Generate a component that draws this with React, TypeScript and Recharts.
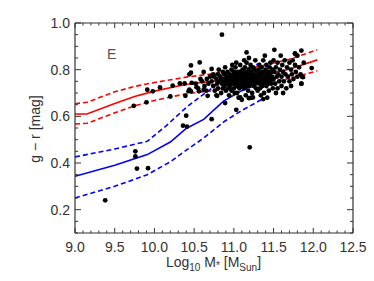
import { ComposedChart, Line, Scatter, XAxis, YAxis } from 'recharts';

// axis ticks
const xMajor = [9.0, 9.5, 10.0, 10.5, 11.0, 11.5, 12.0, 12.5];
const yMajor = [0.2, 0.4, 0.6, 0.8, 1.0];
const xTicks = Array.from({ length: 36 }, (_, i) => +(9 + i * 0.1).toFixed(1));
const yTicks = Array.from({ length: 19 }, (_, i) => +(0.1 + i * 0.05).toFixed(2));

// red: median and 1-sigma envelope
const redMedian: [number, number][] = [
  [9.0, 0.61], [9.15, 0.61], [9.5, 0.655], [9.75, 0.685], [10.0, 0.708], [10.3, 0.73],
  [10.5, 0.742], [10.8, 0.752], [11.1, 0.765], [11.4, 0.782], [11.7, 0.802], [12.05, 0.842],
];
const redUpper: [number, number][] = [
  [9.0, 0.654], [9.15, 0.66], [9.5, 0.705], [9.75, 0.728], [10.0, 0.745], [10.4, 0.768],
  [10.8, 0.785], [11.1, 0.8], [11.4, 0.82], [11.7, 0.845], [12.05, 0.885],
];
const redLower: [number, number][] = [
  [9.0, 0.567], [9.15, 0.57], [9.5, 0.615], [9.75, 0.645], [10.0, 0.668], [10.4, 0.697],
  [10.8, 0.712], [11.1, 0.727], [11.4, 0.743], [11.7, 0.762], [12.05, 0.795],
];

// blue: median and 1-sigma envelope
const blueMedian: [number, number][] = [
  [9.0, 0.343], [9.5, 0.39], [9.91, 0.436], [10.2, 0.49], [10.4, 0.548],
  [10.62, 0.587], [10.87, 0.665], [11.1, 0.71], [11.33, 0.75],
];
const blueUpper: [number, number][] = [
  [9.0, 0.426], [9.5, 0.46], [9.91, 0.493], [10.15, 0.56], [10.4, 0.638],
  [10.6, 0.69], [10.82, 0.745], [11.05, 0.79], [11.33, 0.828],
];
const blueLower: [number, number][] = [
  [9.0, 0.25], [9.5, 0.3], [9.91, 0.35], [10.2, 0.405], [10.41, 0.457],
  [10.62, 0.507], [10.88, 0.578], [11.1, 0.625], [11.36, 0.674],
];

// galaxies away from the main clump
const outliers: [number, number][] = [
  [9.38, 0.24], [9.76, 0.428], [9.76, 0.45], [9.78, 0.376], [9.92, 0.378],
  [9.74, 0.645], [9.9, 0.66], [9.91, 0.714], [9.98, 0.707], [10.07, 0.724],
  [10.2, 0.685], [10.23, 0.732], [10.32, 0.741], [10.38, 0.741], [10.46, 0.818],
  [10.44, 0.78], [10.46, 0.787], [10.47, 0.743], [10.44, 0.714], [10.43, 0.708],
  [10.53, 0.725], [10.56, 0.707], [10.39, 0.688], [10.4, 0.603], [10.36, 0.56],
  [10.41, 0.556], [10.72, 0.588], [11.03, 0.628], [11.2, 0.467], [11.37, 0.674],
  [11.19, 0.678], [11.24, 0.681], [10.89, 0.657], [10.67, 0.688], [10.79, 0.688],
  [11.08, 0.681], [11.1, 0.671], [10.85, 0.95], [11.51, 0.885], [11.16, 0.874],
  [11.85, 0.882], [11.77, 0.868], [10.57, 0.831], [10.72, 0.803], [11.98, 0.807],
  [11.87, 0.768], [11.85, 0.74], [10.62, 0.714], [10.46, 0.707],
];

// the dense clump of massive galaxies
const clump: [number, number][] = [
  [10.52, 0.74], [10.55, 0.72], [10.58, 0.76], [10.6, 0.75], [10.62, 0.79], [10.63, 0.73],
  [10.65, 0.71], [10.66, 0.76], [10.68, 0.74], [10.7, 0.77],
  [10.72, 0.75], [10.74, 0.73], [10.75, 0.77], [10.76, 0.71], [10.78, 0.76], [10.79, 0.74],
  [10.8, 0.78], [10.8, 0.72], [10.82, 0.75], [10.83, 0.77], [10.84, 0.7], [10.85, 0.74],
  [10.86, 0.79], [10.87, 0.76], [10.88, 0.73], [10.88, 0.78], [10.9, 0.75], [10.9, 0.71],
  [10.78, 0.69], [10.81, 0.8], [10.86, 0.72], [10.74, 0.78], [10.89, 0.81],
  [10.91, 0.77], [10.92, 0.74], [10.92, 0.79], [10.93, 0.72], [10.94, 0.76], [10.95, 0.78],
  [10.95, 0.73], [10.96, 0.75], [10.97, 0.8], [10.97, 0.71], [10.98, 0.77], [10.99, 0.74],
  [11.0, 0.76], [11.0, 0.79], [11.0, 0.72], [11.01, 0.78], [11.02, 0.75], [11.02, 0.81],
  [11.03, 0.73], [11.04, 0.77], [11.04, 0.7], [11.05, 0.76], [11.05, 0.79], [11.06, 0.74],
  [11.07, 0.78], [11.07, 0.72], [11.08, 0.76], [11.08, 0.82], [11.09, 0.75], [11.09, 0.79],
  [11.1, 0.73], [11.1, 0.77], [10.94, 0.69], [11.03, 0.83], [11.06, 0.68], [10.98, 0.82],
  [11.01, 0.7],
  [11.11, 0.76], [11.11, 0.8], [11.12, 0.74], [11.12, 0.78], [11.13, 0.72], [11.13, 0.77],
  [11.14, 0.75], [11.14, 0.81], [11.15, 0.79], [11.15, 0.73], [11.16, 0.76], [11.16, 0.83],
  [11.17, 0.74], [11.17, 0.78], [11.18, 0.71], [11.18, 0.77], [11.19, 0.75], [11.19, 0.8],
  [11.2, 0.73], [11.2, 0.78], [11.21, 0.76], [11.21, 0.82], [11.22, 0.74], [11.22, 0.79],
  [11.23, 0.77], [11.23, 0.7], [11.24, 0.75], [11.24, 0.81], [11.25, 0.78], [11.25, 0.73],
  [11.26, 0.76], [11.26, 0.8], [11.27, 0.74], [11.27, 0.84], [11.28, 0.77], [11.28, 0.72],
  [11.29, 0.79], [11.29, 0.75], [11.3, 0.78], [11.3, 0.71], [11.15, 0.69], [11.22, 0.68],
  [11.13, 0.84], [11.19, 0.85],
  [11.31, 0.76], [11.31, 0.8], [11.32, 0.74], [11.32, 0.82], [11.33, 0.78], [11.33, 0.72],
  [11.34, 0.77], [11.35, 0.75], [11.35, 0.81], [11.36, 0.79], [11.36, 0.73], [11.37, 0.76],
  [11.37, 0.84], [11.38, 0.78], [11.38, 0.7], [11.39, 0.75], [11.4, 0.8], [11.4, 0.77],
  [11.41, 0.73], [11.41, 0.82], [11.42, 0.76], [11.43, 0.79], [11.43, 0.74], [11.44, 0.78],
  [11.44, 0.71], [11.45, 0.81], [11.46, 0.76], [11.46, 0.83], [11.47, 0.74], [11.47, 0.79],
  [11.48, 0.77], [11.49, 0.72], [11.49, 0.8], [11.5, 0.76], [11.5, 0.84], [11.34, 0.69],
  [11.42, 0.68], [11.39, 0.86],
  [11.51, 0.79], [11.52, 0.74], [11.53, 0.81], [11.54, 0.77], [11.55, 0.72], [11.55, 0.83],
  [11.56, 0.78], [11.57, 0.75], [11.58, 0.8], [11.59, 0.86], [11.6, 0.77], [11.6, 0.73],
  [11.61, 0.82], [11.62, 0.79], [11.63, 0.75], [11.64, 0.84], [11.65, 0.78], [11.66, 0.72],
  [11.67, 0.81], [11.68, 0.77], [11.7, 0.83], [11.7, 0.75], [11.53, 0.7], [11.62, 0.7],
  [11.72, 0.8], [11.73, 0.78], [11.74, 0.84], [11.75, 0.76], [11.77, 0.82], [11.78, 0.79],
  [11.8, 0.86], [11.8, 0.77], [11.82, 0.81], [11.84, 0.78], [11.85, 0.74], [11.86, 0.77],
  [11.88, 0.83], [11.72, 0.73], [11.77, 0.87],
];

// the solid black core of the clump
const core: [number, number][] = [
  [10.96, 0.745], [10.98, 0.755], [11.0, 0.74], [11.02, 0.765], [11.04, 0.745], [11.06, 0.755],
  [11.08, 0.74], [11.1, 0.76], [11.12, 0.75], [11.14, 0.765], [11.16, 0.745], [11.18, 0.755],
  [11.2, 0.765], [11.22, 0.75], [11.24, 0.77], [11.26, 0.745], [11.28, 0.76], [11.3, 0.75],
  [11.32, 0.765], [11.34, 0.755], [11.36, 0.77], [11.38, 0.745], [11.4, 0.76], [11.42, 0.77],
  [11.44, 0.755], [11.46, 0.77], [11.48, 0.76], [11.05, 0.735], [11.15, 0.735], [11.25, 0.735],
  [11.35, 0.74], [11.45, 0.745], [11.11, 0.785], [11.21, 0.79], [11.31, 0.79], [11.41, 0.79],
  [10.93, 0.765], [10.88, 0.755], [10.84, 0.76], [10.9, 0.74],
];

const toRows = (pts: [number, number][]) => pts.map(([x, y]) => ({ x, y }));
const galaxies = toRows([...outliers, ...clump, ...core]);

const AXIS = '#333';
const FONT = '"Liberation Sans", Arial, sans-serif';

const isMajor = (v: number, majors: number[]) => majors.some((m) => Math.abs(m - v) < 1e-6);

const BottomTick = ({ x, y, payload }: any) => {
  const major = isMajor(payload.value, xMajor);
  return (
    <g>
      <line x1={x} x2={x} y1={y} y2={y - (major ? 5 : 2.5)} stroke={AXIS} />
      {major && (
        <text x={x} y={y + 19} textAnchor="middle" fontSize={14} fill={AXIS} fontFamily={FONT}>
          {payload.value.toFixed(1)}
        </text>
      )}
    </g>
  );
};

const TopTick = ({ x, y, payload }: any) => {
  const major = isMajor(payload.value, xMajor);
  return <line x1={x} x2={x} y1={y} y2={y + (major ? 5 : 2.5)} stroke={AXIS} />;
};

const LeftTick = ({ x, y, payload }: any) => {
  const major = isMajor(payload.value, yMajor);
  return (
    <g>
      <line x1={x} x2={x + (major ? 6 : 3)} y1={y} y2={y} stroke={AXIS} />
      {major && (
        <text x={x - 5} y={y + 5} textAnchor="end" fontSize={14} fill={AXIS} fontFamily={FONT}>
          {payload.value.toFixed(1)}
        </text>
      )}
    </g>
  );
};

const RightTick = ({ x, y, payload }: any) => {
  const major = isMajor(payload.value, yMajor);
  return <line x1={x} x2={x - (major ? 6 : 3)} y1={y} y2={y} stroke={AXIS} />;
};

const Dot = (p: any) => <circle cx={p.cx} cy={p.cy} r={2.4} fill="#000" />;

export default function App() {
  return (
    <div style={{ position: 'absolute', left: 0, top: 0, width: 374, height: 281, background: '#fff' }}>
      <ComposedChart width={374} height={281} margin={{ top: 13, right: 11, bottom: 0, left: 0 }}>
        <XAxis xAxisId="b" type="number" dataKey="x" domain={[9, 12.5]} ticks={xTicks} interval={0}
          allowDataOverflow height={48} tickSize={0} tickMargin={0} tick={<BottomTick />}
          axisLine={{ stroke: AXIS, strokeWidth: 1.2 }} tickLine={false} />
        <XAxis xAxisId="t" orientation="top" type="number" dataKey="x" domain={[9, 12.5]} ticks={xTicks}
          interval={0} allowDataOverflow height={10} tickSize={0} tickMargin={0} tick={<TopTick />}
          axisLine={{ stroke: AXIS, strokeWidth: 1.2 }} tickLine={false} />
        <YAxis yAxisId="l" type="number" dataKey="y" domain={[0.1, 1.0]} ticks={yTicks} interval={0}
          allowDataOverflow width={75} tickSize={0} tickMargin={0} tick={<LeftTick />}
          axisLine={{ stroke: AXIS, strokeWidth: 1.2 }} tickLine={false} />
        <YAxis yAxisId="r" orientation="right" type="number" dataKey="y" domain={[0.1, 1.0]} ticks={yTicks}
          interval={0} allowDataOverflow width={10} tickSize={0} tickMargin={0} tick={<RightTick />}
          axisLine={{ stroke: AXIS, strokeWidth: 1.2 }} tickLine={false} />

        <Scatter xAxisId="b" yAxisId="l" data={galaxies} dataKey="y" shape={<Dot />} isAnimationActive={false} />

        <Line xAxisId="b" yAxisId="l" data={toRows(redMedian)} dataKey="y" type="linear" stroke="#ff0000"
          strokeWidth={1.6} dot={false} isAnimationActive={false} />
        <Line xAxisId="b" yAxisId="l" data={toRows(redUpper)} dataKey="y" type="linear" stroke="#ff0000"
          strokeWidth={1.6} strokeDasharray="5 3" dot={false} isAnimationActive={false} />
        <Line xAxisId="b" yAxisId="l" data={toRows(redLower)} dataKey="y" type="linear" stroke="#ff0000"
          strokeWidth={1.6} strokeDasharray="5 3" dot={false} isAnimationActive={false} />
        <Line xAxisId="b" yAxisId="l" data={toRows(blueMedian)} dataKey="y" type="linear" stroke="#0000ff"
          strokeWidth={1.6} dot={false} isAnimationActive={false} />
        <Line xAxisId="b" yAxisId="l" data={toRows(blueUpper)} dataKey="y" type="linear" stroke="#0000ff"
          strokeWidth={1.6} strokeDasharray="5 3" dot={false} isAnimationActive={false} />
        <Line xAxisId="b" yAxisId="l" data={toRows(blueLower)} dataKey="y" type="linear" stroke="#0000ff"
          strokeWidth={1.6} strokeDasharray="5 3" dot={false} isAnimationActive={false} />
      </ComposedChart>

      {/* titles and panel tag */}
      <svg width={374} height={281} style={{ position: 'absolute', left: 0, top: 0, pointerEvents: 'none' }}
        fontFamily={FONT} fill={AXIS}>
        <text x={107} y={59} fontSize={14} fill="#555">E</text>
        <text transform="translate(40,129) rotate(-90)" textAnchor="middle" fontSize={14}>g − r [mag]</text>
        <text x={213.5} y={267} textAnchor="middle" fontSize={14}>
          Log<tspan fontSize={10} dy={4}>10</tspan>
          <tspan dy={-4}> M</tspan><tspan fontSize={10} dy={2}>*</tspan>
          <tspan dy={-2}> [M</tspan><tspan fontSize={10} dy={4}>Sun</tspan>
          <tspan dy={-4}>]</tspan>
        </text>
      </svg>
    </div>
  );
}
